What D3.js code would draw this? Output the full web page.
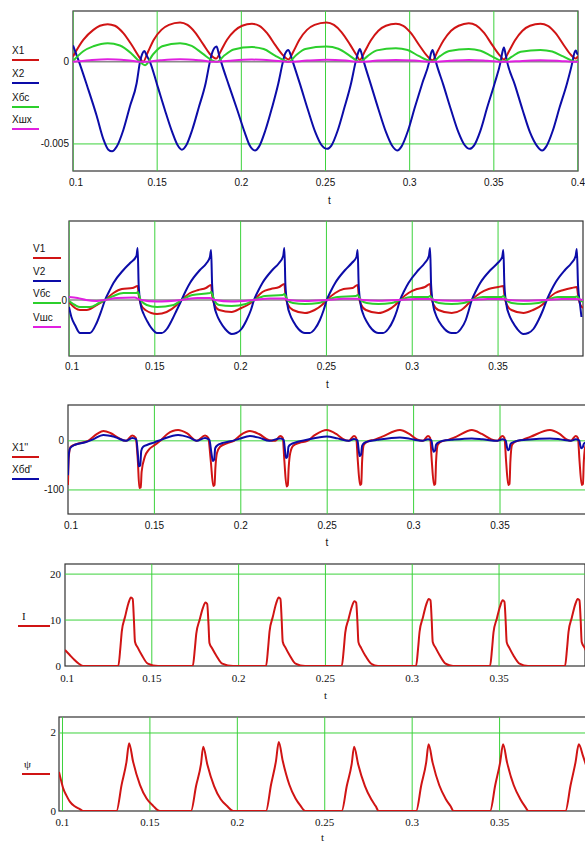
<!DOCTYPE html>
<html>
<head>
<meta charset="utf-8">
<script src="https://cdn.jsdelivr.net/npm/d3@7"></script>
<style>
body { margin: 0; background: #fff; }
text { font-family: "Liberation Sans", Arial, sans-serif; font-size: 10px; fill: #111; }
.serif text { font-family: "Liberation Serif", "Times New Roman", serif; font-size: 11px; }
</style>
</head>
<body>
<script>
// ---------- data: [t, value] ----------
var tTicks = [0.1, 0.15, 0.2, 0.25, 0.3, 0.35, 0.4];
var tTickLabels = ["0.1", "0.15", "0.2", "0.25", "0.3", "0.35", "0.4"];

// panel 1, displacements, values in units of 1e-3
var p1YTicks = [0, -5];
var p1YTickLabels = ["0", "-0.005"];
var X1 = [[0.1,0.33],[0.1061,1.34],[0.1121,1.95],[0.116,2.2],[0.1206,2.3],[0.1249,2.2],[0.1299,1.75],[0.1348,1.04],[0.1398,0.23],[0.1416,0.0],
  [0.1445,0.6],[0.148,1.35],[0.1525,1.95],[0.157,2.25],[0.1636,2.4],[0.168,2.25],[0.1725,1.8],[0.1775,1.05],[0.182,0.4],[0.185,0.2],
  [0.188,0.7],[0.1915,1.35],[0.196,1.9],[0.2005,2.2],[0.2063,2.32],[0.2107,2.2],[0.2153,1.75],[0.2203,1.0],[0.2248,0.4],[0.228,0.15],
  [0.231,0.65],[0.2345,1.35],[0.239,1.95],[0.2435,2.25],[0.2506,2.4],[0.255,2.25],[0.2596,1.8],[0.2646,1.05],[0.2685,0.4],[0.2704,0.12],
  [0.2734,0.65],[0.2769,1.3],[0.2814,1.9],[0.2859,2.2],[0.2918,2.32],[0.2962,2.2],[0.3008,1.75],[0.3058,1.0],[0.3105,0.35],[0.3136,0.1],
  [0.3166,0.65],[0.3201,1.3],[0.3246,1.9],[0.3291,2.2],[0.3351,2.36],[0.3395,2.22],[0.3441,1.78],[0.3491,1.02],[0.3535,0.4],[0.356,0.15],
  [0.359,0.65],[0.3625,1.3],[0.367,1.9],[0.3715,2.2],[0.3777,2.32],[0.3821,2.2],[0.3867,1.75],[0.3917,1.0],[0.396,0.4],[0.3987,0.2],[0.4,0.35]];
var X2 = [[0.1,1.0],[0.1018,0.5],[0.1036,0],[0.1085,-1.5],[0.1141,-3.3],[0.118,-4.7],[0.121,-5.35],[0.1232,-5.45],[0.126,-5.16],[0.1299,-4.15],[0.1338,-2.72],[0.1378,-1.3],[0.1398,0],[0.1412,0.5],[0.1424,0.67],[0.1437,0.4],[0.1457,0],
  [0.150,-1.4],[0.1545,-2.9],[0.159,-4.3],[0.162,-5.05],[0.1647,-5.35],[0.1672,-5.1],[0.1708,-4.15],[0.1748,-2.75],[0.1788,-1.3],[0.1813,0],[0.1828,0.6],[0.1853,0.93],[0.1866,0.5],[0.188,0],
  [0.1925,-1.4],[0.1975,-2.9],[0.202,-4.3],[0.205,-5.1],[0.2081,-5.4],[0.2106,-5.15],[0.2142,-4.2],[0.2182,-2.8],[0.222,-1.3],[0.2247,0],[0.226,0.5],[0.228,0.73],[0.2292,0.45],[0.2306,0],
  [0.235,-1.4],[0.2395,-2.9],[0.244,-4.3],[0.2475,-5.05],[0.251,-5.3],[0.2535,-5.1],[0.2572,-4.2],[0.2612,-2.8],[0.2652,-1.3],[0.2679,0],[0.2692,0.5],[0.2704,0.79],[0.2716,0.45],[0.2728,0],
  [0.277,-1.4],[0.2815,-2.9],[0.286,-4.3],[0.2895,-5.1],[0.2926,-5.4],[0.2952,-5.15],[0.299,-4.2],[0.303,-2.8],[0.3075,-1.3],[0.3116,0],[0.3126,0.5],[0.3136,0.73],[0.3146,0.4],[0.3156,0],
  [0.32,-1.4],[0.3245,-2.9],[0.329,-4.3],[0.3325,-5.05],[0.3357,-5.3],[0.3382,-5.1],[0.342,-4.2],[0.346,-2.8],[0.3505,-1.3],[0.354,0],[0.355,0.55],[0.356,0.87],[0.357,0.45],[0.3579,0],
  [0.3625,-1.4],[0.367,-2.9],[0.3715,-4.3],[0.3755,-5.1],[0.3787,-5.4],[0.3812,-5.15],[0.385,-4.2],[0.389,-2.8],[0.3935,-1.3],[0.3967,0],[0.3977,0.5],[0.3987,0.69],[0.3995,0.5],[0.4,0.45]];
var X6c = [[0.1,0.05],[0.1061,0.65],[0.1121,0.95],[0.1206,1.14],[0.1279,1.0],[0.1348,0.5],[0.1398,0.0],[0.1428,-0.2],
  [0.1475,0.45],[0.153,0.95],[0.1636,1.14],[0.1705,0.98],[0.177,0.5],[0.1835,0.05],[0.1855,0.0],
  [0.19,0.4],[0.1955,0.75],[0.2063,0.9],[0.2133,0.78],[0.2198,0.4],[0.2265,0.05],[0.228,0.0],
  [0.2325,0.4],[0.238,0.78],[0.2506,0.93],[0.2576,0.8],[0.2641,0.4],[0.269,0.05],[0.2704,0.0],
  [0.275,0.35],[0.2805,0.7],[0.2918,0.83],[0.2988,0.72],[0.3053,0.36],[0.312,0.05],[0.3136,0.02],
  [0.318,0.35],[0.3235,0.66],[0.3351,0.79],[0.3421,0.68],[0.3486,0.35],[0.3545,0.05],[0.356,0.02],
  [0.3605,0.3],[0.366,0.62],[0.3777,0.73],[0.3847,0.63],[0.3912,0.33],[0.397,0.05],[0.3987,0.02],[0.4,0.1]];
var Xshx = [[0.1,0.0],[0.11,0.1],[0.1206,0.16],[0.132,0.1],[0.1416,0.0],[0.152,0.1],[0.1636,0.16],[0.175,0.1],[0.185,0.0],
  [0.195,0.09],[0.2063,0.14],[0.218,0.09],[0.228,0.0],[0.239,0.08],[0.2506,0.13],[0.262,0.08],[0.2704,0.0],
  [0.281,0.08],[0.2918,0.12],[0.303,0.08],[0.3136,0.0],[0.324,0.07],[0.3351,0.12],[0.346,0.07],[0.356,0.0],
  [0.367,0.06],[0.3777,0.1],[0.389,0.06],[0.3987,0.0],[0.4,0.01]];

// panel 2, velocities
var p2YTicks = [0];
var p2YTickLabels = ["0"];
var V1 = [[0.1,-0.02],[0.1035,-0.08],[0.1064,-0.1],[0.1103,-0.1],[0.1161,-0.05],[0.121,0],[0.1259,0.07],[0.1308,0.11],[0.137,0.12],[0.140,0.14],
  [0.1406,0.05],[0.1418,-0.04],[0.1445,-0.1],[0.1513,-0.14],[0.1569,-0.12],[0.1628,-0.05],[0.1656,0],[0.1705,0.07],[0.1754,0.1],[0.1798,0.12],[0.1828,0.15],
  [0.1834,0.05],[0.1846,-0.04],[0.1875,-0.1],[0.1948,-0.12],[0.2004,-0.08],[0.205,-0.04],[0.2078,0],[0.2127,0.08],[0.2176,0.11],[0.2225,0.13],[0.2255,0.16],
  [0.2261,0.05],[0.2273,-0.04],[0.2305,-0.1],[0.2375,-0.13],[0.2431,-0.1],[0.2474,-0.05],[0.2502,0],[0.2551,0.07],[0.26,0.11],[0.2652,0.12],[0.2682,0.15],
  [0.2688,0.05],[0.27,-0.04],[0.273,-0.1],[0.2803,-0.13],[0.2859,-0.1],[0.2901,-0.05],[0.2929,0],[0.2978,0.07],[0.3027,0.11],[0.3074,0.13],[0.3104,0.16],
  [0.311,0.05],[0.3122,-0.04],[0.3152,-0.1],[0.323,-0.13],[0.3286,-0.1],[0.3319,-0.05],[0.3347,0],[0.3396,0.07],[0.3445,0.11],[0.3501,0.13],[0.3531,0.14],
  [0.3537,0.05],[0.3549,-0.04],[0.3578,-0.1],[0.3648,-0.13],[0.3704,-0.1],[0.3756,-0.05],[0.3784,0],[0.3833,0.07],[0.3882,0.1],[0.3929,0.12],[0.3959,0.13],
  [0.3966,0.05],[0.3978,-0.04],[0.3995,-0.08]];
var V2 = [[0.1,-0.07],[0.1014,-0.17],[0.1035,-0.25],[0.1064,-0.33],[0.1122,-0.33],[0.1161,-0.23],[0.119,-0.1],[0.121,0],
  [0.1235,0.09],[0.1259,0.17],[0.1317,0.3],[0.1356,0.37],[0.1393,0.44],[0.140,0.52],[0.1406,0.15],[0.1418,-0.05],[0.1435,-0.14],[0.1455,-0.21],[0.148,-0.28],[0.1513,-0.33],[0.154,-0.33],[0.157,-0.29],[0.16,-0.2],[0.1628,-0.1],[0.1656,0],
  [0.168,0.09],[0.1705,0.17],[0.1763,0.3],[0.1802,0.37],[0.1821,0.43],[0.1828,0.50],[0.1834,0.15],[0.1846,-0.05],[0.1862,-0.15],[0.1882,-0.22],[0.191,-0.29],[0.1948,-0.34],[0.1975,-0.33],[0.2005,-0.29],[0.2035,-0.2],[0.206,-0.1],[0.2078,0],
  [0.2102,0.09],[0.2127,0.17],[0.2185,0.3],[0.2224,0.37],[0.2248,0.44],[0.2255,0.52],[0.2261,0.15],[0.2273,-0.05],[0.2289,-0.15],[0.2309,-0.22],[0.2337,-0.29],[0.2375,-0.33],[0.2402,-0.33],[0.2432,-0.29],[0.2462,-0.2],[0.2484,-0.1],[0.2502,0],
  [0.2526,0.09],[0.2551,0.17],[0.2609,0.3],[0.2648,0.37],[0.2675,0.43],[0.2682,0.5],[0.2688,0.15],[0.27,-0.05],[0.2716,-0.15],[0.2736,-0.22],[0.2764,-0.29],[0.2803,-0.33],[0.283,-0.33],[0.286,-0.29],[0.289,-0.2],[0.2912,-0.1],[0.2929,0],
  [0.2953,0.09],[0.2978,0.17],[0.3036,0.3],[0.3073,0.37],[0.3097,0.44],[0.3104,0.52],[0.311,0.15],[0.3122,-0.05],[0.3138,-0.15],[0.3158,-0.22],[0.3188,-0.29],[0.323,-0.33],[0.3255,-0.33],[0.3283,-0.29],[0.3312,-0.2],[0.333,-0.1],[0.3347,0],
  [0.3371,0.09],[0.3396,0.17],[0.3456,0.3],[0.3498,0.37],[0.3524,0.43],[0.3531,0.5],[0.3537,0.15],[0.3549,-0.05],[0.3565,-0.15],[0.3585,-0.22],[0.3612,-0.29],[0.3648,-0.34],[0.3676,-0.33],[0.3706,-0.29],[0.3736,-0.2],[0.3762,-0.1],[0.3784,0],
  [0.3808,0.09],[0.3833,0.17],[0.389,0.3],[0.3928,0.37],[0.3952,0.44],[0.3959,0.51],[0.3966,0.15],[0.3978,-0.05],[0.3986,-0.17]];
var V6c = [[0.1,-0.01],[0.1035,-0.05],[0.1064,-0.07],[0.1122,-0.07],[0.1175,-0.03],[0.121,0],[0.1259,0.04],[0.1317,0.07],[0.1395,0.07],[0.140,0.08],
  [0.1418,0.0],[0.1453,-0.05],[0.1513,-0.07],[0.161,-0.05],[0.1656,0],[0.172,0.05],[0.1822,0.07],[0.1828,0.08],[0.1846,0.0],[0.1875,-0.05],[0.1948,-0.06],[0.203,-0.04],[0.2078,0],
  [0.2142,0.04],[0.2245,0.05],[0.2255,0.06],[0.2273,0.0],[0.2305,-0.03],[0.2375,-0.04],[0.2455,-0.03],[0.2502,0],[0.2566,0.03],[0.2672,0.04],[0.2682,0.05],[0.27,0.0],[0.2735,-0.03],[0.2803,-0.04],[0.288,-0.03],[0.2929,0],
  [0.2993,0.03],[0.3094,0.03],[0.3104,0.04],[0.3122,0.0],[0.3155,-0.03],[0.323,-0.04],[0.33,-0.03],[0.3347,0],[0.3411,0.03],[0.3521,0.03],[0.3531,0.04],[0.3549,0.0],[0.358,-0.03],[0.3648,-0.04],[0.3735,-0.03],[0.3784,0],
  [0.3848,0.03],[0.3949,0.03],[0.3959,0.035],[0.3978,0.0],[0.3995,-0.02]];
var Vshc = [[0.1,0.03],[0.105,0.02],[0.11,0.0],[0.116,-0.01],[0.121,0.0],[0.128,0.02],[0.138,0.025],[0.142,0.0],[0.151,-0.015],[0.1656,0.0],
  [0.175,0.02],[0.182,0.02],[0.185,0.0],[0.1948,-0.015],[0.2078,0.0],[0.217,0.015],[0.225,0.015],[0.228,0.0],[0.2375,-0.01],[0.2502,0.0],
  [0.26,0.012],[0.268,0.012],[0.271,0.0],[0.2803,-0.008],[0.2929,0.0],[0.302,0.01],[0.31,0.01],[0.313,0.0],[0.323,-0.008],[0.3347,0.0],
  [0.344,0.01],[0.353,0.01],[0.356,0.0],[0.3648,-0.008],[0.3784,0.0],[0.387,0.01],[0.395,0.01],[0.3995,0.0]];

// panel 3, accelerations
var p3YTicks = [0, -100];
var p3YTickLabels = ["0", "-100"];
var X1dd = [[0.1,-90],[0.1004,-35],[0.1015,-12],[0.1066,-5],[0.1116,0],[0.1168,14],[0.1205,20],[0.1245,16],[0.1297,5],[0.1336,0],[0.1372,11],[0.1392,6],[0.1404,-40],[0.1413,-96],[0.1421,-95],
  [0.1426,-63],[0.1445,-32],[0.1468,-18],[0.1495,-10],[0.1534,0],[0.1575,14],[0.1637,22],[0.169,15],[0.1745,0],[0.1793,11],[0.1812,6],[0.1826,-40],[0.1841,-92],[0.1848,-90],
  [0.1853,-55],[0.1862,-25],[0.188,-12],[0.192,-5],[0.196,0],[0.2,12],[0.2053,20],[0.2105,14],[0.2165,1],[0.22,0],[0.2228,10],[0.2243,6],[0.2252,-40],[0.2265,-93],[0.2272,-90],
  [0.2277,-55],[0.2286,-25],[0.2303,-10],[0.234,-4],[0.2385,0],[0.243,12],[0.2497,22],[0.2552,14],[0.259,4],[0.2625,0],[0.2655,10],[0.2668,6],[0.2677,-40],[0.269,-90],[0.2697,-88],
  [0.2702,-42],[0.2712,-8],[0.2735,-1],[0.277,2],[0.2815,8],[0.2921,22],[0.2975,14],[0.302,3],[0.3055,0],[0.3083,10],[0.3096,6],[0.3105,-40],[0.3118,-90],[0.3125,-88],
  [0.313,-42],[0.314,-8],[0.3163,-1],[0.32,2],[0.3245,8],[0.3337,22],[0.3395,14],[0.345,3],[0.3485,0],[0.3513,10],[0.3526,6],[0.3535,-40],[0.3548,-90],[0.3555,-88],
  [0.356,-42],[0.357,-8],[0.3593,-1],[0.363,2],[0.3675,8],[0.3789,22],[0.3845,14],[0.3885,3],[0.391,0],[0.3938,10],[0.3951,6],[0.396,-40],[0.3973,-90],[0.398,-88],[0.3985,-42],[0.3995,-10],[0.4,-8]];
var X6dd = [[0.1,-70],[0.1004,-30],[0.1012,-15],[0.104,-8],[0.11,-3],[0.1145,3],[0.1205,12],[0.127,8],[0.1336,0],[0.1372,6],[0.1395,3],[0.1405,-30],[0.141,-52],[0.1418,-50],
  [0.1424,-20],[0.1435,-12],[0.146,-8],[0.15,-3],[0.1545,3],[0.1637,12],[0.17,7],[0.1745,0],[0.1793,6],[0.1818,2],[0.183,-25],[0.1838,-41],[0.1846,-38],
  [0.1852,-15],[0.1865,-9],[0.189,-5],[0.194,-1],[0.199,4],[0.2053,10],[0.211,6],[0.2165,0],[0.2228,5],[0.2248,2],[0.2256,-20],[0.2262,-35],[0.227,-32],
  [0.2276,-12],[0.229,-7],[0.232,-3],[0.237,1],[0.2497,9],[0.256,5],[0.2625,0],[0.2655,4],[0.2675,1],[0.2682,-18],[0.2688,-31],[0.2696,-28],
  [0.2702,-10],[0.2715,-4],[0.274,-1],[0.279,2],[0.2921,7],[0.298,4],[0.305,0],[0.3083,3],[0.3103,1],[0.311,-14],[0.3116,-22],[0.3124,-20],
  [0.313,-8],[0.3145,-3],[0.317,0],[0.322,2],[0.3337,5],[0.34,3],[0.3485,0],[0.3513,3],[0.3533,1],[0.354,-12],[0.3546,-19],[0.3554,-17],
  [0.356,-7],[0.3575,-3],[0.36,0],[0.365,2],[0.3789,5],[0.385,3],[0.391,0],[0.3938,3],[0.3958,1],[0.3965,-10],[0.3971,-15],[0.3979,-13],[0.3985,-6],[0.4,-3]];

// panel 4, current
var p4YTicks = [0, 10, 20];
var p4YTickLabels = ["0", "10", "20"];
var Icur = [[0.1,3.5],[0.1025,2.5],[0.105,1.5],[0.108,0.5],[0.1106,0],
  [0.1307,0],[0.1319,4],[0.1327,7.5],[0.1346,10.7],[0.1365,13.6],[0.138,14.9],[0.139,14.6],[0.1397,10],[0.1403,5.3],[0.1419,4.0],[0.1442,2.4],[0.1477,0.5],[0.1536,0],
  [0.1736,0],[0.1748,3.8],[0.1756,7],[0.1775,10],[0.1794,12.6],[0.1809,13.8],[0.1819,13.5],[0.1826,9.5],[0.1832,5],[0.1848,3.8],[0.1871,2.3],[0.1906,0.5],[0.1968,0],
  [0.2158,0],[0.217,4],[0.2178,7.5],[0.2197,10.7],[0.2216,13.6],[0.2231,14.9],[0.2241,14.6],[0.2248,10],[0.2254,5.3],[0.227,4.0],[0.2293,2.4],[0.2328,0.5],[0.2383,0],
  [0.2594,0],[0.2606,3.8],[0.2614,7.2],[0.2633,10.2],[0.2652,12.9],[0.2667,14.1],[0.2677,13.8],[0.2684,9.8],[0.269,5.2],[0.2706,3.9],[0.2729,2.3],[0.2764,0.5],[0.2803,0],
  [0.3022,0],[0.3034,4],[0.3042,7.4],[0.3061,10.5],[0.308,13.3],[0.3095,14.6],[0.3105,14.3],[0.3112,10],[0.3118,5.2],[0.3134,4],[0.3157,2.4],[0.3192,0.5],[0.3235,0],
  [0.3448,0],[0.346,3.9],[0.3468,7.3],[0.3487,10.3],[0.3506,13],[0.3521,14.3],[0.3531,14],[0.3538,9.8],[0.3544,5.2],[0.356,3.9],[0.3583,2.3],[0.3618,0.5],[0.3667,0],
  [0.388,0],[0.3892,4],[0.39,7.4],[0.3919,10.5],[0.3938,13.3],[0.3953,14.6],[0.3963,14.3],[0.397,10],[0.3976,5.2],[0.3992,4],[0.4,3.4]];

// panel 5, flux linkage
var p5YTicks = [0, 2];
var p5YTickLabels = ["0", "2"];
var Psi = [[0.098,1.0],[0.0992,0.78],[0.1004,0.58],[0.1022,0.4],[0.1042,0.24],[0.107,0.12],[0.1099,0.05],[0.1118,0],
  [0.1309,0],[0.1338,0.67],[0.1366,1.26],[0.1381,1.74],[0.1404,1.26],[0.1443,0.67],[0.1481,0.32],[0.1519,0.13],[0.1557,0],
  [0.1735,0],[0.1764,0.64],[0.1792,1.2],[0.1805,1.65],[0.1828,1.2],[0.1867,0.64],[0.1905,0.3],[0.1943,0.12],[0.1976,0],
  [0.2164,0],[0.2193,0.68],[0.2221,1.28],[0.2237,1.77],[0.226,1.28],[0.2297,0.68],[0.2333,0.32],[0.2362,0.13],[0.2388,0],
  [0.2597,0],[0.2626,0.64],[0.2654,1.2],[0.2668,1.65],[0.2691,1.2],[0.273,0.64],[0.2766,0.3],[0.2792,0.12],[0.2808,0],
  [0.3023,0],[0.3052,0.66],[0.308,1.24],[0.3094,1.71],[0.3117,1.24],[0.3155,0.66],[0.3192,0.31],[0.322,0.12],[0.3237,0],
  [0.3446,0],[0.3475,0.66],[0.3503,1.24],[0.352,1.71],[0.3543,1.24],[0.3581,0.66],[0.3618,0.31],[0.3645,0.12],[0.3665,0],
  [0.3877,0],[0.3906,0.66],[0.3934,1.24],[0.3953,1.71],[0.3978,1.4],[0.4,1.1]];

// ---------- drawing ----------
var RED = "#d01414", BLUE = "#0c0ca8", GREEN = "#2ccf2c", MAGENTA = "#e020e0", GRID = "#3cd23c";

var svg = d3.select("body").append("svg").attr("width", 585).attr("height", 842);

function panel(p, idx) {
    var g = svg.append("g").attr("class", p.serif ? "serif" : "");
    var x = d3.scaleLinear().domain(p.xDomain).range([p.left, p.right]);
    var y = d3.scaleLinear().domain(p.yDomain).range([p.bottom, p.top]);

    g.append("rect")
        .attr("x", p.left).attr("y", p.top)
        .attr("width", p.right - p.left).attr("height", p.bottom - p.top)
        .attr("fill", "white").attr("stroke", "#333").attr("stroke-width", 1.2);

    var clipId = "clip" + idx;
    g.append("clipPath").attr("id", clipId).append("rect")
        .attr("x", p.left).attr("y", p.top)
        .attr("width", p.right - p.left).attr("height", p.bottom - p.top);

    var grid = g.append("g").attr("clip-path", "url(#" + clipId + ")");
    tTicks.forEach(function(t){
        if (x(t) < p.left - 0.5 || x(t) > p.right + 0.5) return;
        if (Math.abs(x(t) - p.left) < 1 && !p.leftGreen) return;
        grid.append("line")
            .attr("x1", x(t)).attr("x2", x(t)).attr("y1", p.top).attr("y2", p.bottom)
            .attr("stroke", GRID).attr("stroke-width", 1);
    });
    p.hGrid.forEach(function(v){
        grid.append("line")
            .attr("x1", p.left).attr("x2", p.right).attr("y1", y(v)).attr("y2", y(v))
            .attr("stroke", GRID).attr("stroke-width", 1);
    });
    if (p.zeroGray) {
        grid.append("line")
            .attr("x1", p.left).attr("x2", p.right).attr("y1", y(0)).attr("y2", y(0))
            .attr("stroke", "#8a8a8a").attr("stroke-width", 1.5);
    }

    var line = d3.line()
        .curve(d3.curveMonotoneX)
        .x(function(d){ return x(d[0]); })
        .y(function(d){ return y(d[1]); });

    var curves = g.append("g").attr("clip-path", "url(#" + clipId + ")");
    p.series.forEach(function(s){
        curves.append("path")
            .attr("fill", "none")
            .attr("stroke", s.color)
            .attr("stroke-width", 2)
            .attr("stroke-linejoin", "round")
            .attr("d", line(s.data));
    });

    // x tick labels (the last one only where the reference shows it)
    tTicks.forEach(function(t, i){
        if (i >= p.nLabels) return;
        g.append("text")
            .attr("x", x(t) + (i == 0 ? p.firstShift : 0))
            .attr("y", p.xLabelY)
            .attr("text-anchor", "middle")
            .text(tTickLabels[i]);
    });
    g.append("text")
        .attr("x", (p.left + 586) / 2)
        .attr("y", p.tY)
        .attr("text-anchor", "middle")
        .text("t");

    // y tick labels
    p.yTicks.forEach(function(v, i){
        g.append("text")
            .attr("x", p.yLabelX)
            .attr("y", y(v) + 3.5)
            .attr("text-anchor", "end")
            .text(p.yTickLabels[i]);
    });

    // legend
    p.series.forEach(function(s, i){
        var ly = p.legendY[i];
        g.append("text")
            .attr("x", p.legendX + p.legendTextDx)
            .attr("y", ly - 6.5)
            .text(s.name);
        g.append("line")
            .attr("x1", p.legendX).attr("x2", p.legendX + p.legendW)
            .attr("y1", ly).attr("y2", ly)
            .attr("stroke", s.color).attr("stroke-width", 2);
    });
}

var panels = [
    {left: 73, right: 578, top: 11, bottom: 171, xDomain: [0.1, 0.4], yDomain: [-6.65, 3.1],
     yTicks: p1YTicks, yTickLabels: p1YTickLabels, hGrid: [-5], zeroGray: true, leftGreen: true,
     xLabelY: 185.5, tY: 204, yLabelX: 69, firstShift: 3, nLabels: 7,
     legendX: 12, legendW: 27, legendTextDx: 0, legendY: [60, 83, 107, 129],
     series: [{name: "X1", color: RED, data: X1}, {name: "X2", color: BLUE, data: X2},
              {name: "Xбс", color: GREEN, data: X6c}, {name: "Xшх", color: MAGENTA, data: Xshx}]},
    {left: 69, right: 583, top: 221, bottom: 356, xDomain: [0.1, 0.3995], yDomain: [-0.56, 0.79],
     yTicks: p2YTicks, yTickLabels: p2YTickLabels, hGrid: [], zeroGray: true, leftGreen: true,
     xLabelY: 369.5, tY: 388, yLabelX: 67, firstShift: 3, nLabels: 6,
     legendX: 33, legendW: 28, legendTextDx: 0, legendY: [258, 281, 303, 327],
     series: [{name: "V1", color: RED, data: V1}, {name: "V2", color: BLUE, data: V2},
              {name: "Vбс", color: GREEN, data: V6c}, {name: "Vшс", color: MAGENTA, data: Vshc}]},
    {left: 68, right: 586.4, top: 405, bottom: 514, xDomain: [0.1, 0.4], yDomain: [-149, 73],
     yTicks: p3YTicks, yTickLabels: p3YTickLabels, hGrid: [0, -100], zeroGray: false, leftGreen: false,
     xLabelY: 528.5, tY: 546, yLabelX: 64, firstShift: 3, nLabels: 6,
     legendX: 12, legendW: 27, legendTextDx: 0, legendY: [457, 479],
     series: [{name: "X1''", color: RED, data: X1dd}, {name: "Xбd'", color: BLUE, data: X6dd}]},
    {left: 65, right: 585, top: 564, bottom: 666, xDomain: [0.1, 0.3995], yDomain: [0, 22.2], serif: true,
     yTicks: p4YTicks, yTickLabels: p4YTickLabels, hGrid: [10, 20], zeroGray: false, leftGreen: false,
     xLabelY: 681.5, tY: 699, yLabelX: 61, firstShift: 2, nLabels: 6,
     legendX: 18, legendW: 32, legendTextDx: 4, legendY: [626],
     series: [{name: "I", color: RED, data: Icur}]},
    {left: 59, right: 587, top: 717, bottom: 811, xDomain: [0.098, 0.4], yDomain: [0, 2.41], serif: true,
     yTicks: p5YTicks, yTickLabels: p5YTickLabels, hGrid: [2], zeroGray: false, leftGreen: true,
     xLabelY: 825.5, tY: 841, yLabelX: 56, firstShift: 0, nLabels: 6,
     legendX: 22, legendW: 28, legendTextDx: 2, legendY: [774],
     series: [{name: "ψ", color: RED, data: Psi}]}
];

panels.forEach(function(p, i){ panel(p, i); });
</script>
</body>
</html>
